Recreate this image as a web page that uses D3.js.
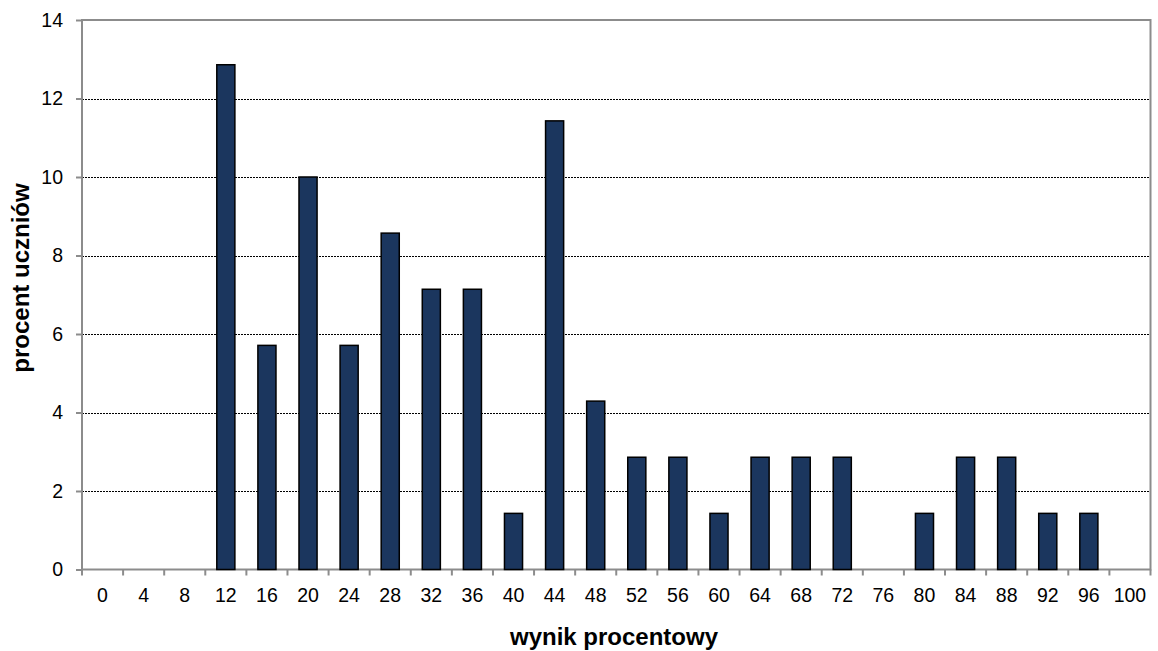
<!DOCTYPE html>
<html><head><meta charset="utf-8">
<script src="https://cdn.jsdelivr.net/npm/d3@7"></script>
<style>body{margin:0;background:#fff}svg{display:block}text{font-family:Arial,"Liberation Sans",sans-serif}</style>
</head><body>
<svg id="c" width="1158" height="651"></svg>
<script>
const categories = [0,4,8,12,16,20,24,28,32,36,40,44,48,52,56,60,64,68,72,76,80,84,88,92,96,100];
const values = [0,0,0,12.86,5.71,10,5.71,8.57,7.14,7.14,1.43,11.43,4.29,2.86,2.86,1.43,2.86,2.86,2.86,0,1.43,2.86,2.86,1.43,1.43,0];
const yTicks = [0,2,4,6,8,10,12,14];
const xTitle = "wynik procentowy";
const yTitle = "procent uczniów";

const svg = d3.select("#c");
const L=82, R=1150.5, T=20, B=569.5;
const x = d3.scaleBand().domain(categories).range([L,R]).paddingInner(0.56).paddingOuter(0.28);
const xb = d3.scaleBand().domain(categories).range([L,R]);
const y = d3.scaleLinear().domain([0,14]).range([B,T]);

// grid
svg.append("g").selectAll("line").data(yTicks.filter(d=>d>0&&d<14)).join("line")
  .attr("x1",L).attr("x2",R).attr("y1",d=>Math.round(y(d))+0.5).attr("y2",d=>Math.round(y(d))+0.5)
  .attr("stroke","#000").attr("stroke-width",1).attr("stroke-dasharray","2,1");

// frame
svg.append("rect").attr("x",L).attr("y",T).attr("width",R-L).attr("height",B-T)
  .attr("fill","none").attr("stroke","#8c8c8c").attr("stroke-width",2);

// bars
svg.append("g").selectAll("rect").data(values.map((v,i)=>({c:categories[i],v}))).join("rect")
  .attr("x",d=>x(d.c)).attr("width",x.bandwidth())
  .attr("y",d=>y(d.v)).attr("height",d=>B-y(d.v))
  .attr("fill",d=>d.v>0?"#1b365e":"none").attr("stroke",d=>d.v>0?"#000":"none").attr("stroke-width",1.5);

// y axis
const ya = d3.axisLeft(y).tickValues(yTicks).tickSize(6).tickPadding(13);
const yg = svg.append("g").attr("transform",`translate(${L},0)`).call(ya);
yg.select(".domain").remove();
yg.selectAll("line").attr("stroke","#8c8c8c").attr("stroke-width",2);
yg.selectAll("text").attr("font-size",19.5).attr("fill","#000").attr("font-family","Arial, 'Liberation Sans', sans-serif");

// x axis ticks at band edges
const edges = categories.map(c=>xb(c)).concat([R]);
svg.append("g").selectAll("line").data(edges).join("line")
  .attr("x1",d=>d).attr("x2",d=>d).attr("y1",B).attr("y2",B+6)
  .attr("stroke","#8c8c8c").attr("stroke-width",2);
svg.append("g").selectAll("text").data(categories).join("text")
  .attr("x",d=>xb(d)+xb.bandwidth()/2).attr("y",602)
  .attr("text-anchor","middle").attr("font-size",19.5).attr("fill","#000").text(d=>d);

// titles
svg.append("text").attr("x",614).attr("y",645).attr("text-anchor","middle")
  .attr("font-size",24).attr("font-weight","bold").text(xTitle);
svg.append("text").attr("transform",`translate(29,278) rotate(-90)`).attr("text-anchor","middle")
  .attr("font-size",24).attr("font-weight","bold").text(yTitle);
</script>
</body></html>
